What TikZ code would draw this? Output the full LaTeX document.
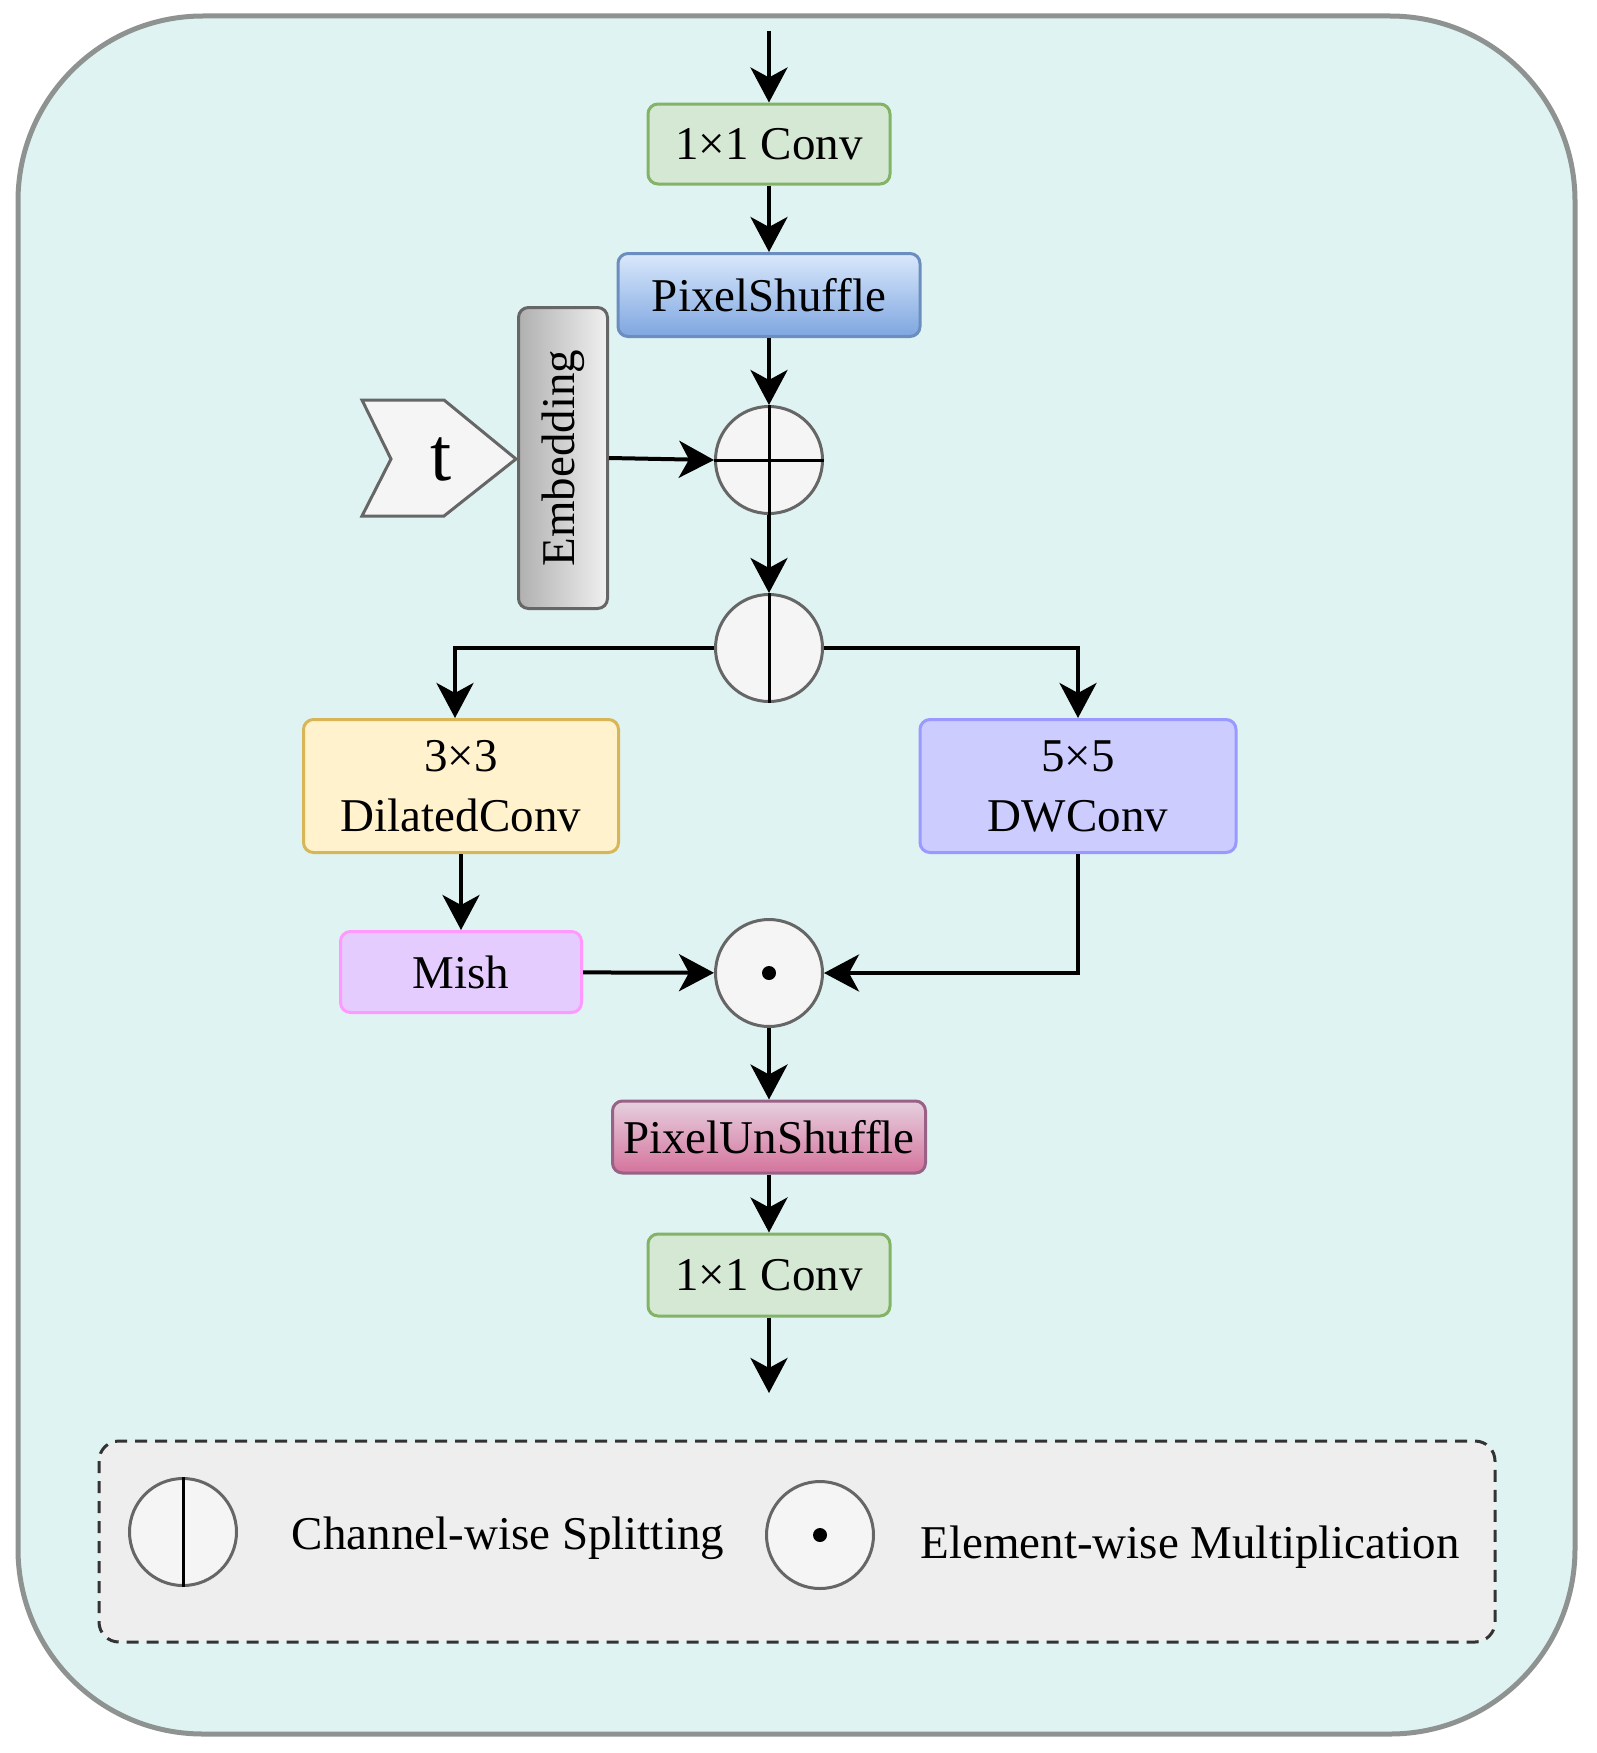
\documentclass[tikz,border=0pt]{standalone}
\usepackage{fontspec}
\setmainfont{Liberation Serif}
\usepackage{graphicx}
\usetikzlibrary{arrows.meta}
\definecolor{bgc}{HTML}{DFF3F3}
\definecolor{outc}{HTML}{8E9391}
\definecolor{gfill}{HTML}{D5E8D4}
\definecolor{gdraw}{HTML}{82B366}
\definecolor{bluetop}{HTML}{DAE8FC}
\definecolor{bluebot}{HTML}{7EA6E0}
\definecolor{bluedraw}{HTML}{6C8EBF}
\definecolor{graydark}{HTML}{B0B0B0}
\definecolor{graylight}{HTML}{F0F0F0}
\definecolor{graydraw}{HTML}{666666}
\definecolor{circfill}{HTML}{F5F5F5}
\definecolor{yfill}{HTML}{FFF2CC}
\definecolor{ydraw}{HTML}{D6B656}
\definecolor{dwfill}{HTML}{CCCCFF}
\definecolor{dwdraw}{HTML}{9999FF}
\definecolor{mishfill}{HTML}{E5CCFF}
\definecolor{mishdraw}{HTML}{FF99FF}
\definecolor{pinktop}{HTML}{E6D0DE}
\definecolor{pinkbot}{HTML}{D5739D}
\definecolor{pinkdraw}{HTML}{996185}
\definecolor{legfill}{HTML}{EEEEEE}
\definecolor{legdraw}{HTML}{333333}
\begin{document}
\begin{tikzpicture}[x=1pt,y=-1pt,
  font=\fontsize{47}{60}\selectfont,
  box/.style={rounded corners=10pt, line width=3pt, inner sep=0pt, align=center},
  arr/.style={-{Stealth[length=35pt,width=37pt,inset=10pt]}, line width=4pt, black},
  op/.style={circle, draw=graydraw, fill=circfill, line width=3pt, minimum size=107pt, inner sep=0pt},
  inl/.style={line width=3pt, black}]
\useasboundingbox (0,0) rectangle (1597,1753);
\draw[line width=5pt, draw=outc, fill=bgc, rounded corners=185pt] (18,16) rectangle (1575,1734);

% main chain
\node[box, draw=gdraw, fill=gfill, minimum width=242pt, minimum height=80pt] (conv1) at (769,144) {1×1 Conv};
\node[box, draw=bluedraw, top color=bluetop, bottom color=bluebot, minimum width=302pt, minimum height=83pt] (ps) at (769,295) {PixelShuffle};
\node[op] (plus) at (769,460) {};
\draw[inl] (plus.north) -- (plus.south) (plus.west) -- (plus.east);

% t input and embedding
\draw[line width=3pt, draw=graydraw, fill=circfill] (362,400) -- (444,400) -- (516,459) -- (444,516) -- (362,516) -- (391,459) -- cycle;
\node[font=\fontsize{76}{80}\selectfont] (t) at (441,459) {t};
\node[box, draw=graydraw, left color=graydark, right color=graylight, minimum width=89pt, minimum height=301pt] (emb) at (563,458) {\rotatebox{90}{Embedding}};

\node[op] (split) at (769,648) {};
\draw[inl] (split.north) -- (split.south);

\node[box, draw=ydraw, fill=yfill, minimum width=315pt, minimum height=133pt] (dil) at (461,786) {3×3\\DilatedConv};
\node[box, draw=dwdraw, fill=dwfill, minimum width=316pt, minimum height=133pt] (dw) at (1078,786) {5×5\\DWConv};
\node[box, draw=mishdraw, fill=mishfill, minimum width=241pt, minimum height=81pt] (mish) at (461,972) {Mish};
\node[op] (mult) at (769,973) {};
\fill[black] (mult.center) circle (7pt);

\node[box, draw=pinkdraw, top color=pinktop, bottom color=pinkbot, minimum width=313pt, minimum height=72pt] (pus) at (769,1137) {PixelUnShuffle};
\node[box, draw=gdraw, fill=gfill, minimum width=242pt, minimum height=82pt] (conv2) at (769,1275) {1×1 Conv};

\coordinate (in) at (769,31);
\coordinate (out) at (769,1393);

% connectors
\draw[arr] (in) -- (conv1.north);
\draw[arr] (conv1) -- (ps);
\draw[arr] (ps) -- (plus);
\draw[arr] (emb.east) -- (plus.west);
\draw[arr] (plus) -- (split);
\draw[arr] (split.west) -| ([xshift=-6pt]dil.north);
\draw[arr] (split.east) -| (dw.north);
\draw[arr] (dil) -- (mish);
\draw[arr] (mish) -- (mult);
\draw[arr] (dw.south) |- (mult.east);
\draw[arr] (mult) -- (pus);
\draw[arr] (pus) -- (conv2);
\draw[arr] (conv2.south) -- (out);

% legend
\draw[line width=3pt, draw=legdraw, fill=legfill, dash pattern=on 12pt off 8pt, rounded corners=20pt] (99,1441) rectangle (1495,1642);
\node[op] (lsplit) at (183,1532) {};
\draw[inl] (lsplit.north) -- (lsplit.south);
\node[anchor=base] (ltxt1) at (508,1549) {Channel-wise Splitting};
\node[op] (lmult) at (820,1535) {};
\fill[black] (lmult.center) circle (7pt);
\node[anchor=base] (ltxt2) at (1190,1558) {Element-wise Multiplication};
\end{tikzpicture}
\end{document}
